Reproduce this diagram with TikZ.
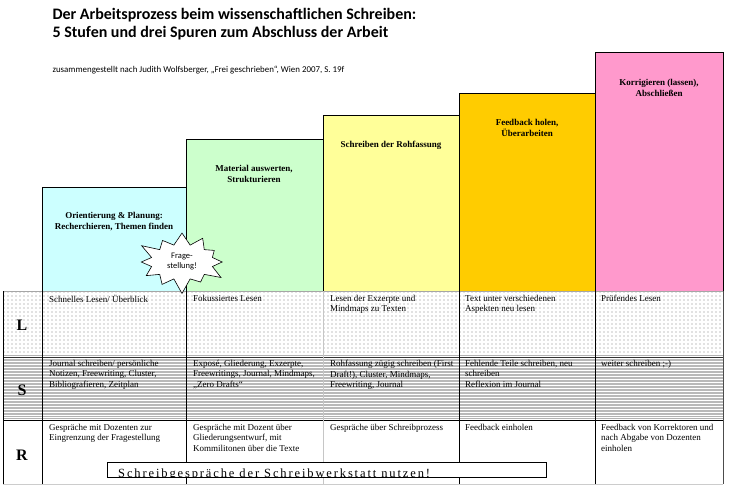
\documentclass[tikz,border=0pt]{standalone}
\usepackage{fontspec}
\setmainfont{Liberation Serif}
\newfontfamily\titlefont{Carlito}
\newfontfamily\spacedfont[LetterSpace=15]{Liberation Serif}
\usetikzlibrary{patterns,shapes.symbols}

\definecolor{stagecyan}{HTML}{CCFFFF}
\definecolor{stagegreen}{HTML}{CCFFCC}
\definecolor{stageyellow}{HTML}{FFFF99}
\definecolor{stageorange}{HTML}{FFCC00}
\definecolor{stagepink}{HTML}{FF99CC}

% sparse dots for the reading track
\pgfdeclarepatternformonly{sparsedots}{\pgfqpoint{-1pt}{-1pt}}{\pgfqpoint{1pt}{1pt}}{\pgfqpoint{4pt}{4pt}}{%
    \pgfpathcircle{\pgfqpoint{0pt}{0pt}}{0.55pt}\pgfusepath{fill}}

\tikzset{
    stagelabel/.style={draw=none, rectangle, align=center, font=\fontsize{9}{11}\selectfont\bfseries},
    celltext/.style={draw=none, rectangle, anchor=north west, inner sep=2pt, align=left, font=\fontsize{9}{10.5}\selectfont},
    rowletter/.style={draw=none, rectangle, font=\fontsize{16}{16}\selectfont\bfseries},
}

\begin{document}
\begin{tikzpicture}[x=1pt, y=-1pt]
    \useasboundingbox (0,0) rectangle (743,492);

    % Title and source
    \node[anchor=west, align=left, font=\titlefont\bfseries\fontsize{16}{18}\selectfont] (title) at (49,24) {Der Arbeitsprozess beim wissenschaftlichen Schreiben:\\5 Stufen und drei Spuren zum Abschluss der Arbeit};
    \node[anchor=west, font=\titlefont\fontsize{8.9}{11}\selectfont] (source) at (49,70) {zusammengestellt nach Judith Wolfsberger, „Frei geschrieben“, Wien 2007, S. 19f};

    % Draw the five stages
    \filldraw[fill=stagecyan, line width=0.8pt] (42,187) rectangle (186,291);
    \filldraw[fill=stagegreen, line width=0.8pt] (186,139) rectangle (323,291);
    \filldraw[fill=stageyellow, line width=0.8pt] (323,115) rectangle (459,291);
    \filldraw[fill=stageorange, line width=0.8pt] (459,93) rectangle (595,291);
    \filldraw[fill=stagepink, line width=0.8pt] (595,52) rectangle (723,291);

    % Stage labels
    \node[stagelabel] (stage1) at (114,222) {Orientierung \& Planung:\\Recherchieren, Themen finden};
    \node[stagelabel] (stage2) at (254,174) {Material auswerten,\\Strukturieren};
    \node[stagelabel] (stage3) at (391,145) {Schreiben der Rohfassung};
    \node[stagelabel] (stage4) at (527,128) {Feedback holen,\\Überarbeiten};
    \node[stagelabel] (stage5) at (659,88) {Korrigieren (lassen),\\Abschließen};

    % Track L (dotted) and track S (lined)
    \fill[pattern=sparsedots, pattern color=gray] (3,291) rectangle (723,355);
    \foreach \y in {360,363,...,414}
        \draw[gray!55, line width=1.1pt] (3,\y) -- (723,\y);

    % Row separators
    \draw[gray!70, line width=0.8pt] (3,291) -- (723,291);
    \draw[gray!60, line width=0.8pt] (3,355) -- (723,355);
    \draw[black!80, line width=0.8pt] (3,357.5) -- (723,357.5);
    \draw[gray!60, line width=0.8pt] (3,416) -- (723,416);
    \draw[gray!60, line width=0.8pt] (3,418) -- (723,418);
    \draw[black, line width=0.8pt] (3,420.5) -- (723,420.5);
    \draw[gray!40, line width=0.8pt] (3,484) -- (723,484);

    % Column lines
    \foreach \x in {3,42,186,459,595}
        \draw[black, line width=0.8pt] (\x,291) -- (\x,484);
    \draw[gray!45, line width=0.8pt] (323,291) -- (323,484);
    \draw[black!70, line width=0.8pt] (723,291) -- (723,484);

    % Track letters
    \node[rowletter] (trackL) at (22,325) {L};
    \node[rowletter] (trackS) at (22,390) {S};
    \node[rowletter] (trackR) at (22,455) {R};

    % Track L texts
    \node[celltext] (l1) at (47,293) {Schnelles Lesen/ Überblick};
    \node[celltext] (l2) at (191,293) {Fokussiertes Lesen};
    \node[celltext] (l3) at (328,293) {Lesen der Exzerpte und\\Mindmaps zu Texten};
    \node[celltext] (l4) at (463,293) {Text unter verschiedenen\\Aspekten neu lesen};
    \node[celltext] (l5) at (599,293) {Prüfendes Lesen};

    % Track S texts
    \node[celltext] (s1) at (47,358) {Journal schreiben/ persönliche\\Notizen, Freewriting, Cluster,\\Bibliografieren, Zeitplan};
    \node[celltext] (s2) at (191,358) {Exposé, Gliederung, Exzerpte,\\Freewritings, Journal, Mindmaps,\\„Zero Drafts“};
    \node[celltext] (s3) at (328,358) {Rohfassung zügig schreiben (First\\Draft!), Cluster, Mindmaps,\\Freewriting, Journal};
    \node[celltext] (s4) at (463,358) {Fehlende Teile schreiben, neu\\schreiben\\Reflexion im Journal};
    \node[celltext] (s5) at (599,358) {weiter schreiben ;-)};

    % Track R texts
    \node[celltext] (r1) at (47,422) {Gespräche mit Dozenten zur\\Eingrenzung der Fragestellung};
    \node[celltext] (r2) at (191,422) {Gespräche mit Dozent über\\Gliederungsentwurf, mit\\Kommilitonen über die Texte};
    \node[celltext] (r3) at (328,422) {Gespräche über Schreibprozess};
    \node[celltext] (r4) at (463,422) {Feedback einholen};
    \node[celltext] (r5) at (599,422) {Feedback von Korrektoren und\\nach Abgabe von Dozenten\\einholen};

    % Writing centre box, its text cut off at the bottom edge
    \node[draw, fill=white, line width=0.6pt, minimum width=439pt, minimum height=15pt, inner sep=0pt] (werkstatt) at (326.5,470) {};
    \begin{scope}
        \clip (werkstatt.south west) rectangle (werkstatt.north east);
        \node[anchor=base west, inner sep=0pt, font=\spacedfont\fontsize{12.5}{14}\selectfont] (werkstatttext) at (118,477.5) {Schreibgespräche der Schreibwerkstatt nutzen!};
    \end{scope}

    % Burst
    \node[starburst, draw, fill=white, line width=0.6pt, minimum width=95pt, minimum height=67pt, starburst points=12, starburst point height=16pt, inner sep=0pt, align=center, font=\titlefont\fontsize{8.5}{10}\selectfont] (frage) at (182,262) {Frage-\\stellung!};

\end{tikzpicture}
\end{document}
